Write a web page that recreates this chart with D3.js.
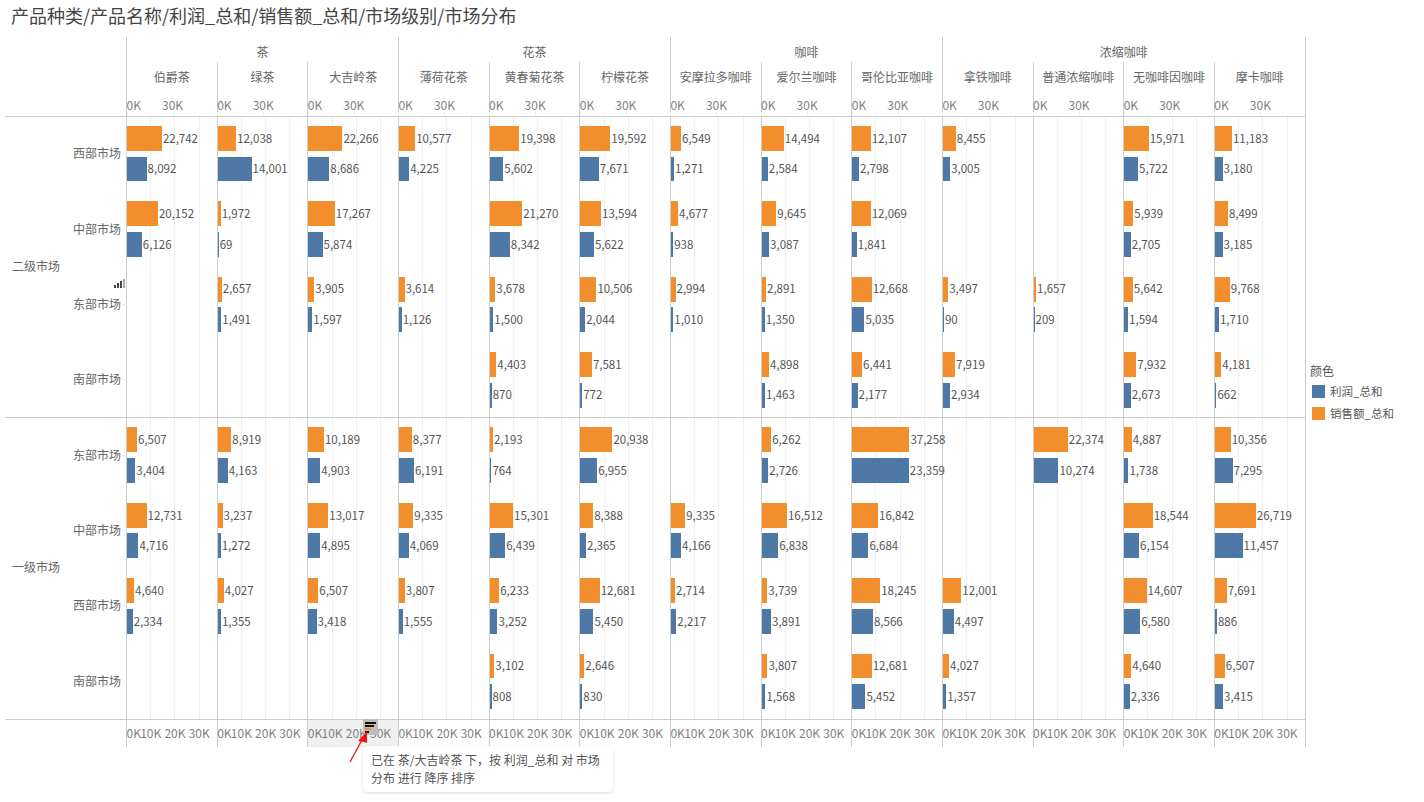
<!DOCTYPE html>
<html><head><meta charset="utf-8">
<script src="https://cdn.jsdelivr.net/npm/d3@7"></script>
<style>
html,body{margin:0;padding:0;background:#fff;overflow:hidden}
text{font-family:"Noto Sans CJK SC","Noto Sans",sans-serif}
rect,line{shape-rendering:crispEdges}
</style></head><body>
<svg id="c" width="1424" height="802"></svg>
<script>
const title="产品种类/产品名称/利润_总和/销售额_总和/市场级别/市场分布";
const groupNames=["茶","花茶","咖啡","浓缩咖啡"];
const groupSpans=[["伯爵茶","大吉岭茶"],["薄荷花茶","柠檬花茶"],["安摩拉多咖啡","哥伦比亚咖啡"],["拿铁咖啡","摩卡咖啡"]];
const products=["伯爵茶","绿茶","大吉岭茶","薄荷花茶","黄春菊花茶","柠檬花茶","安摩拉多咖啡","爱尔兰咖啡","哥伦比亚咖啡","拿铁咖啡","普通浓缩咖啡","无咖啡因咖啡","摩卡咖啡"];
const levels=["二级市场","一级市场"];
const markets=["西部市场","中部市场","东部市场","南部市场","东部市场","中部市场","西部市场","南部市场"];
const N=null;
const sales=[
[22742,12038,22266,10577,19398,19592,6549,14494,12107,8455,N,15971,11183],
[20152,1972,17267,N,21270,13594,4677,9645,12069,N,N,5939,8499],
[N,2657,3905,3614,3678,10506,2994,2891,12668,3497,1657,5642,9768],
[N,N,N,N,4403,7581,N,4898,6441,7919,N,7932,4181],
[6507,8919,10189,8377,2193,20938,N,6262,37258,N,22374,4887,10356],
[12731,3237,13017,9335,15301,8388,9335,16512,16842,N,N,18544,26719],
[4640,4027,6507,3807,6233,12681,2714,3739,18245,12001,N,14607,7691],
[N,N,N,N,3102,2646,N,3807,12681,4027,N,4640,6507]];
const profit=[
[8092,14001,8686,4225,5602,7671,1271,2584,2798,3005,N,5722,3180],
[6126,69,5874,N,8342,5622,938,3087,1841,N,N,2705,3185],
[N,1491,1597,1126,1500,2044,1010,1350,5035,90,209,1594,1710],
[N,N,N,N,870,772,N,1463,2177,2934,N,2673,662],
[3404,4163,4903,6191,764,6955,N,2726,23359,N,10274,1738,7295],
[4716,1272,4895,4069,6439,2365,4166,6838,6684,N,N,6154,11457],
[2334,1355,3418,1555,3252,5450,2217,3891,8566,4497,N,6580,886],
[N,N,N,N,808,830,N,1568,5452,1357,N,2336,3415]];
const bottomTicks=[0,10000,20000,30000];
const topTicks=[0,30000];
const measures=["销售额_总和","利润_总和"];
const legendItems=["利润_总和","销售额_总和"];
const colors={"销售额_总和":"#f28e2b","利润_总和":"#4e79a7"};
const noteLines=["已在 茶/大吉岭茶 下，按 利润_总和 对 市场","分布 进行 降序 排序"];

const L=126.5,R=1305,T=116,B=719,AX=747;
const line="#cdcdcd",grid="#efefef";
const svg=d3.select("#c");
const x=d3.scaleBand().domain(products).range([L,R]);
const y=d3.scaleBand().domain(d3.range(8)).range([T,B]);
const inner=d3.scaleBand().domain(measures).range([0,y.bandwidth()]).paddingInner(.19).paddingOuter(.323);
const cw=x.bandwidth();
const xProfit=d3.scaleLinear().domain([0,37400]).range([0,cw]);
const xSales=d3.scaleLinear().domain([0,59100]).range([0,cw]);
const fmtK=d=>d/1000+"K", fmt=d3.format(",");

svg.append("text").attr("x",11).attr("y",23).attr("font-size",18).attr("fill","#444").text(title);
svg.append("rect").attr("x",x("大吉岭茶")).attr("y",B).attr("width",cw).attr("height",AX-B).attr("fill","#f0f0f0");

products.forEach(p=>{
  svg.append("g").selectAll("line").data(bottomTicks.slice(1)).join("line")
    .attr("x1",d=>x(p)+xProfit(d)).attr("x2",d=>x(p)+xProfit(d))
    .attr("y1",T).attr("y2",B).attr("stroke",grid);
});

const rows=d3.range(8);
const cell=[];
rows.forEach(r=>products.forEach((p,c)=>{
  if(sales[r][c]!==N) cell.push({r,p,m:measures[0],v:sales[r][c],s:xSales});
  if(profit[r][c]!==N) cell.push({r,p,m:measures[1],v:profit[r][c],s:xProfit});
}));
svg.append("g").selectAll("rect").data(cell).join("rect")
  .attr("x",d=>x(d.p)+0.5).attr("y",d=>y(d.r)+inner(d.m))
  .attr("width",d=>Math.max(1,d.s(d.v))).attr("height",inner.bandwidth())
  .attr("fill",d=>colors[d.m]);

const hl=(yy,x1=5,x2=R)=>svg.append("line").attr("x1",x1).attr("x2",x2).attr("y1",yy).attr("y2",yy).attr("stroke",line);
const vl=(xx,y1,y2)=>svg.append("line").attr("x1",xx).attr("x2",xx).attr("y1",y1).attr("y2",y2).attr("stroke",line);
hl(T);hl(y(4));hl(B);
products.forEach(p=>vl(x(p),62,AX));
vl(R,37,AX);
groupSpans.forEach(g=>vl(x(g[0]),37,62));

svg.append("g").selectAll("text").data(cell).join("text")
  .attr("x",d=>x(d.p)+Math.max(1,d.s(d.v))+1.5).attr("y",d=>y(d.r)+inner(d.m)+inner.bandwidth()/2+4.3)
  .attr("font-size",11.5).attr("fill","#555").text(d=>fmt(d.v));

groupNames.forEach((g,i)=>{
  const [a,b]=groupSpans[i];
  svg.append("text").attr("x",(x(a)+x(b)+cw)/2).attr("y",57).attr("text-anchor","middle")
    .attr("font-size",12).attr("fill","#666").text(g);
});
products.forEach(p=>svg.append("text").attr("x",x(p)+cw/2).attr("y",82).attr("text-anchor","middle")
    .attr("font-size",12).attr("fill","#666").text(p));

function styleAxis(g){
  g.select(".domain").remove();
  g.selectAll(".tick line").attr("stroke",grid);
  g.selectAll(".tick text").attr("font-size",12).attr("fill","#808080")
    .style("font-family",'"Noto Sans CJK SC",sans-serif')
    .attr("text-anchor",d=>d===0?"start":"middle").attr("dx",d=>d===0?-0.5:-0.5);
}
products.forEach(p=>{
  svg.append("g").attr("transform",`translate(${x(p)},${T})`)
    .call(d3.axisTop(xSales).tickValues(topTicks).tickFormat(fmtK).tickSize(4).tickPadding(2)).call(styleAxis);
  svg.append("g").attr("transform",`translate(${x(p)},${B})`)
    .call(d3.axisBottom(xProfit).tickValues(bottomTicks).tickFormat(fmtK).tickSize(0).tickPadding(10)).call(styleAxis);
});

markets.forEach((m,i)=>{
  const cy=y(i)+y.bandwidth()/2;
  svg.append("text").attr("x",121).attr("y",cy+4.5)
    .attr("text-anchor","end").attr("font-size",12).attr("fill","#666").text(m);
  svg.append("line").attr("x1",122).attr("x2",L).attr("y1",cy).attr("y2",cy).attr("stroke",grid);
});
levels.forEach((l,i)=>svg.append("text").attr("x",12).attr("y",(y(i*4)+y(i*4+3)+y.bandwidth())/2+4)
    .attr("font-size",12).attr("fill","#666").text(l));

[[114,285,2,3],[117,283,2,5],[120,281,2,7],[123,279,2,9]].forEach(([a,b,w,h],i)=>
  svg.append("rect").attr("x",a).attr("y",b).attr("width",w).attr("height",h).attr("fill",i<3?"#444":"#aaa"));

svg.append("text").attr("x",1310).attr("y",376).attr("font-size",12).attr("fill","#555").text("颜色");
legendItems.forEach((m,i)=>{
  svg.append("rect").attr("x",1312).attr("y",385+i*22).attr("width",13).attr("height",13).attr("fill",colors[m]);
  svg.append("text").attr("x",1330).attr("y",396+i*22).attr("font-size",11.5).attr("fill","#555").text(m);
});

svg.append("rect").attr("x",363).attr("y",719).attr("width",15).attr("height",16).attr("fill","#bdbdbd");
[[365,722,11,"#111"],[365,725,9,"#111"],[365,728,6,"#f28e2b"],[365,731,4,"#111"]].forEach(([a,b,w,c])=>
  svg.append("rect").attr("x",a).attr("y",b).attr("width",w).attr("height",2).attr("fill",c));

const defs=svg.append("defs");
const f=defs.append("filter").attr("id","sh").attr("x","-5%").attr("y","-10%").attr("width","110%").attr("height","125%");
f.append("feDropShadow").attr("dx",0).attr("dy",1).attr("stdDeviation",1.5).attr("flood-color","#000").attr("flood-opacity",.15);
svg.append("rect").attr("x",363).attr("y",746).attr("width",250).attr("height",46).attr("rx",5).attr("fill","#fff").attr("filter","url(#sh)").style("shape-rendering","auto");
noteLines.forEach((t,i)=>svg.append("text").attr("x",371).attr("y",765+i*18).attr("font-size",12).attr("fill","#555").text(t));

svg.append("line").attr("x1",350).attr("y1",762).attr("x2",363).attr("y2",738).attr("stroke","#f01414").attr("stroke-width",1.3).style("shape-rendering","auto");
svg.append("path").attr("d","M367 731L358 741L364 742L367 743Z").attr("fill","#f01414");
</script></body></html>
